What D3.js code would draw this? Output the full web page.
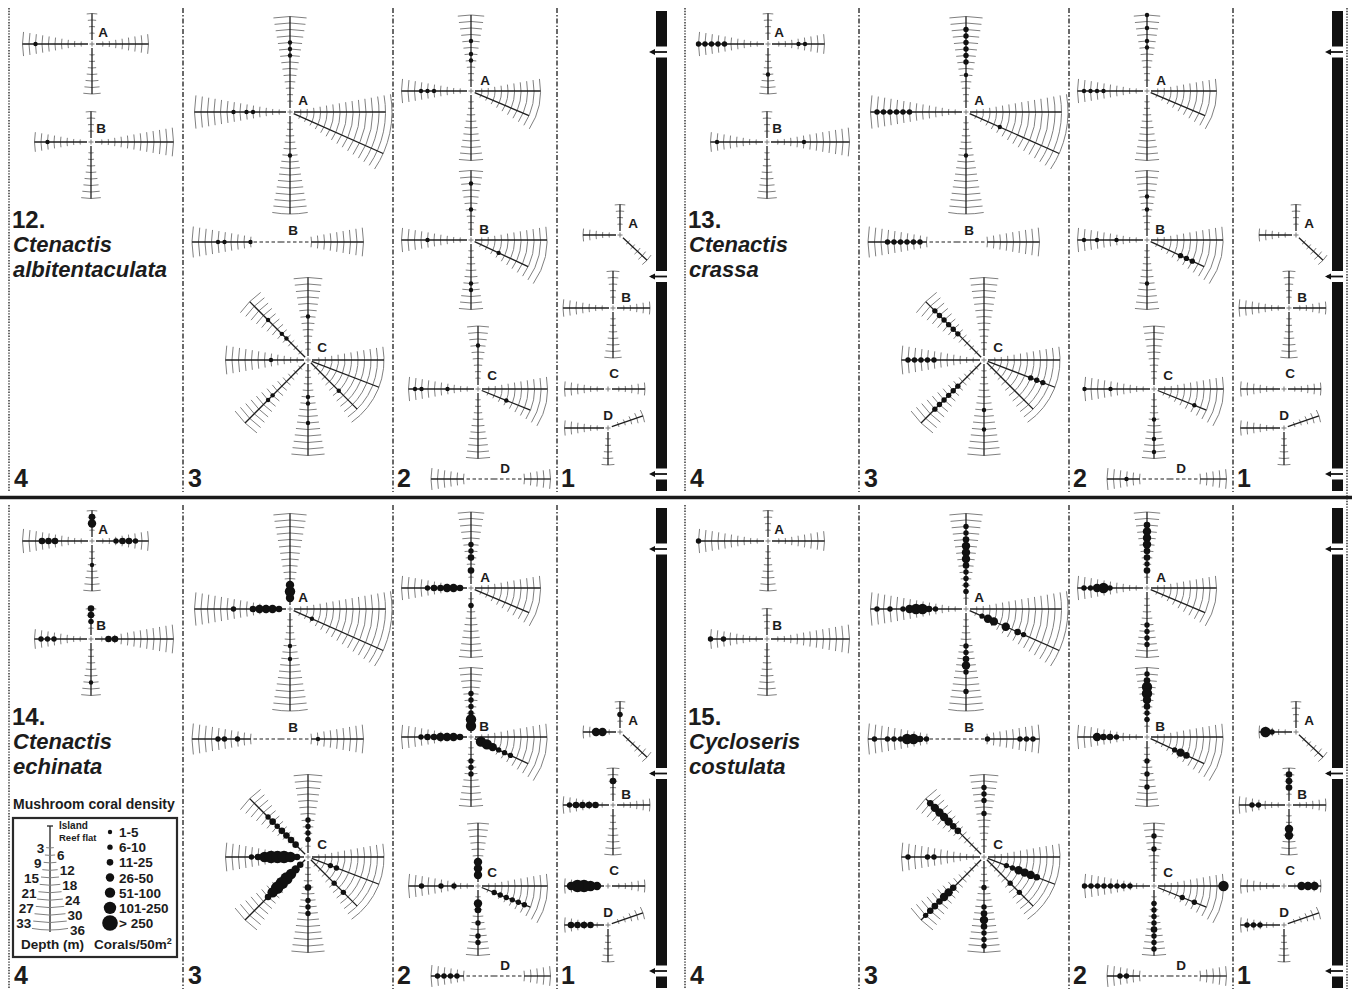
<!DOCTYPE html>
<html>
<head>
<meta charset="utf-8">
<script src="https://cdn.jsdelivr.net/npm/d3@7"></script>
<style>
  html, body { margin: 0; padding: 0; background: #ffffff; }
  svg { display: block; }
  text { font-family: "Liberation Sans", Arial, sans-serif; font-weight: bold; fill: #1c1c1c; }
</style>
</head>
<body>
<svg id="chart" width="1352" height="990"></svg>
<script>
// ---------------------------------------------------------------
// Data
// ---------------------------------------------------------------
const columnNames = ["4", "3", "2", "1"];
const speciesNumber = ["12.", "13.", "14.", "15."];
const speciesGenus = ["Ctenactis", "Ctenactis", "Ctenactis", "Cycloseris"];
const speciesEpithet = ["albitentaculata", "crassa", "echinata", "costulata"];
const densityClasses = ["1-5", "6-10", "11-25", "26-50", "51-100", "101-250", "> 250"];
const depthTicks = [3, 6, 9, 12, 15, 18, 21, 24, 27, 30, 33, 36];

// Transect arms of every station: [station, arm, bearing (deg, ccw from east), depth steps, first step drawn]
const stationArms = [
  ["4A", "N", 90, 4, 1], ["4A", "W", 180, 10, 1], ["4A", "S", 270, 7, 1], ["4A", "E", 0, 8, 1],
  ["4B", "N", 90, 4, 1], ["4B", "W", 180, 8, 1], ["4B", "S", 270, 8, 1], ["4B", "E", 0, 12, 1],
  ["3A", "N", 90, 14, 1], ["3A", "W", 180, 14, 1], ["3A", "S", 270, 15, 1], ["3A", "E", 0, 14, 1], ["3A", "ESE", -24, 15, 1],
  ["3B", "W", 180, 13, 4], ["3B", "E", 0, 12, 4],
  ["3C", "N", 90, 12, 1], ["3C", "NW", 135, 12, 1], ["3C", "W", 180, 12, 1], ["3C", "SW", 225, 13, 1],
  ["3C", "S", 270, 14, 1], ["3C", "E", 0, 11, 1], ["3C", "ESE", -21, 11, 1], ["3C", "SE", -45, 10, 1],
  ["2A", "N", 90, 11, 1], ["2A", "W", 180, 10, 1], ["2A", "S", 270, 10, 1], ["2A", "E", 0, 10, 1], ["2A", "ESE", -23, 9, 1],
  ["2B", "N", 90, 10, 1], ["2B", "W", 180, 10, 1], ["2B", "S", 270, 10, 1], ["2B", "E", 0, 11, 1], ["2B", "ESE", -25, 9, 1],
  ["2C", "N", 90, 9, 1], ["2C", "W", 180, 10, 1], ["2C", "S", 270, 10, 1], ["2C", "E", 0, 10, 1], ["2C", "ESE", -22, 8, 1],
  ["2D", "W", 180, 9, 4], ["2D", "E", 0, 8, 4],
  ["1A", "N", 90, 4, 1], ["1A", "W", 180, 5, 1], ["1A", "SE", -43, 5, 1],
  ["1B", "N", 90, 5, 1], ["1B", "W", 180, 7, 1], ["1B", "S", 270, 7, 1], ["1B", "E", 0, 5, 1],
  ["1C", "W", 180, 6, 1], ["1C", "E", 0, 5, 1],
  ["1D", "W", 180, 6, 1], ["1D", "S", 270, 5, 1], ["1D", "ENE", 19, 5, 1]
];

// Arms that share one fan of depth contours
const fanGroups = [
  ["3A", ["E", "ESE"]],
  ["3C", ["E", "ESE", "SE"]],
  ["2A", ["E", "ESE"]],
  ["2B", ["E", "ESE"]],
  ["2C", ["E", "ESE"]]
];

// Coral counts: [station, arm, depth step, density class 1..7]
const densityAlbitentaculata = [
  ["4A", "W", 8, 1], ["4B", "W", 6, 1],
  ["3A", "N", 10, 1], ["3A", "N", 9, 1], ["3A", "N", 8, 1],
  ["3A", "W", 8, 1], ["3A", "W", 6, 1], ["3A", "W", 5, 1], ["3A", "S", 6, 1],
  ["3B", "W", 9, 1], ["3B", "W", 8, 1], ["3B", "W", 4, 1],
  ["3C", "N", 6, 1], ["3C", "NW", 8, 1], ["3C", "NW", 5, 1], ["3C", "NW", 4, 1],
  ["3C", "W", 5, 1], ["3C", "SW", 7, 1], ["3C", "SW", 8, 1],
  ["3C", "S", 5, 1], ["3C", "S", 6, 1], ["3C", "S", 9, 1], ["3C", "SE", 6, 1],
  ["2A", "N", 7, 1], ["2A", "N", 5, 1], ["2A", "N", 4, 1],
  ["2A", "W", 7, 1], ["2A", "W", 6, 1], ["2A", "W", 5, 1],
  ["2B", "N", 8, 1], ["2B", "N", 4, 1], ["2B", "W", 6, 1],
  ["2B", "S", 6, 1], ["2B", "S", 7, 1], ["2B", "ESE", 4, 1],
  ["2C", "N", 6, 1], ["2C", "W", 9, 1], ["2C", "W", 8, 1], ["2C", "W", 4, 1], ["2C", "ESE", 4, 1]
];

const densityCrassa = [
  ["4A", "W", 10, 2], ["4A", "W", 9, 2], ["4A", "W", 8, 2], ["4A", "W", 7, 2], ["4A", "W", 6, 2],
  ["4A", "E", 4, 1], ["4A", "E", 5, 1], ["4A", "S", 4, 1],
  ["4B", "W", 7, 1], ["4B", "E", 5, 1],
  ["3A", "N", 12, 2], ["3A", "N", 11, 2], ["3A", "N", 10, 2], ["3A", "N", 9, 2], ["3A", "N", 8, 2], ["3A", "N", 7, 2], ["3A", "N", 5, 1],
  ["3A", "W", 13, 2], ["3A", "W", 12, 2], ["3A", "W", 11, 2], ["3A", "W", 10, 2], ["3A", "W", 9, 2], ["3A", "W", 8, 2],
  ["3A", "ESE", 5, 1], ["3A", "S", 6, 1],
  ["3B", "W", 10, 2], ["3B", "W", 9, 2], ["3B", "W", 8, 2], ["3B", "W", 7, 2], ["3B", "W", 6, 2], ["3B", "W", 5, 2],
  ["3C", "NW", 10, 2], ["3C", "NW", 9, 2], ["3C", "NW", 8, 2], ["3C", "NW", 7, 2], ["3C", "NW", 6, 2], ["3C", "NW", 5, 2],
  ["3C", "W", 11, 2], ["3C", "W", 10, 2], ["3C", "W", 9, 2], ["3C", "W", 8, 2], ["3C", "W", 7, 2],
  ["3C", "SW", 10, 2], ["3C", "SW", 9, 2], ["3C", "SW", 8, 2], ["3C", "SW", 7, 2], ["3C", "SW", 6, 2], ["3C", "SW", 5, 2],
  ["3C", "S", 7, 1], ["3C", "S", 10, 1],
  ["3C", "ESE", 7, 2], ["3C", "ESE", 8, 2], ["3C", "ESE", 9, 2],
  ["2A", "N", 11, 1], ["2A", "N", 9, 1], ["2A", "N", 7, 1], ["2A", "N", 6, 1],
  ["2A", "W", 9, 1], ["2A", "W", 8, 1], ["2A", "W", 7, 1], ["2A", "W", 6, 1],
  ["2B", "N", 6, 1], ["2B", "N", 4, 1], ["2B", "W", 9, 1], ["2B", "W", 7, 1], ["2B", "W", 4, 1],
  ["2B", "S", 6, 1], ["2B", "ESE", 5, 2], ["2B", "ESE", 6, 2], ["2B", "ESE", 7, 2],
  ["2C", "W", 10, 1], ["2C", "W", 6, 1], ["2C", "S", 4, 1], ["2C", "S", 7, 1], ["2C", "S", 9, 1], ["2C", "ESE", 6, 1],
  ["2D", "W", 6, 1]
];

const densityEchinata = [
  ["4A", "N", 2, 4], ["4A", "N", 3, 3], ["4A", "W", 7, 3], ["4A", "W", 6, 3], ["4A", "W", 5, 3],
  ["4A", "E", 3, 2], ["4A", "E", 4, 3], ["4A", "E", 5, 3], ["4A", "E", 6, 2], ["4A", "S", 3, 1],
  ["4B", "N", 4, 3], ["4B", "N", 3, 3], ["4B", "N", 2, 2], ["4B", "W", 7, 2], ["4B", "W", 6, 2], ["4B", "W", 5, 2],
  ["4B", "E", 2, 3], ["4B", "E", 3, 3], ["4B", "S", 6, 1],
  ["3A", "N", 1, 4], ["3A", "N", 2, 5], ["3A", "N", 3, 4],
  ["3A", "W", 1, 3], ["3A", "W", 2, 4], ["3A", "W", 3, 4], ["3A", "W", 4, 4], ["3A", "W", 5, 3], ["3A", "W", 8, 2],
  ["3A", "ESE", 3, 1], ["3A", "S", 5, 1], ["3A", "S", 7, 1],
  ["3B", "W", 9, 2], ["3B", "W", 8, 2], ["3B", "W", 6, 2], ["3B", "E", 5, 1],
  ["3C", "W", 8, 2], ["3C", "W", 7, 3], ["3C", "W", 6, 5], ["3C", "W", 5, 6], ["3C", "W", 4, 6], ["3C", "W", 3, 6], ["3C", "W", 2, 5], ["3C", "W", 1, 3],
  ["3C", "NW", 2, 3], ["3C", "NW", 3, 3], ["3C", "NW", 4, 3], ["3C", "NW", 5, 3], ["3C", "NW", 6, 2], ["3C", "NW", 7, 3], ["3C", "NW", 8, 2],
  ["3C", "SW", 1, 3], ["3C", "SW", 2, 4], ["3C", "SW", 3, 5], ["3C", "SW", 4, 6], ["3C", "SW", 5, 6], ["3C", "SW", 6, 6], ["3C", "SW", 7, 5], ["3C", "SW", 8, 3],
  ["3C", "N", 2, 2], ["3C", "N", 3, 2], ["3C", "N", 4, 2], ["3C", "N", 5, 2],
  ["3C", "S", 4, 3], ["3C", "S", 6, 2], ["3C", "S", 7, 2], ["3C", "S", 8, 2],
  ["3C", "ESE", 3, 2], ["3C", "ESE", 4, 2], ["3C", "SE", 5, 2], ["3C", "SE", 7, 2],
  ["2A", "N", 2, 3], ["2A", "N", 4, 3], ["2A", "N", 5, 2], ["2A", "N", 6, 2],
  ["2A", "W", 1, 3], ["2A", "W", 2, 4], ["2A", "W", 3, 4], ["2A", "W", 4, 3], ["2A", "W", 5, 3], ["2A", "W", 6, 2],
  ["2A", "S", 2, 2],
  ["2B", "N", 1, 5], ["2B", "N", 2, 5], ["2B", "N", 3, 2], ["2B", "N", 4, 2], ["2B", "N", 5, 2], ["2B", "N", 6, 2],
  ["2B", "W", 1, 3], ["2B", "W", 2, 4], ["2B", "W", 3, 4], ["2B", "W", 4, 4], ["2B", "W", 5, 3], ["2B", "W", 6, 3], ["2B", "W", 7, 2],
  ["2B", "ESE", 1, 5], ["2B", "ESE", 2, 5], ["2B", "ESE", 3, 4], ["2B", "ESE", 4, 2], ["2B", "ESE", 5, 2], ["2B", "ESE", 6, 2],
  ["2B", "S", 3, 2], ["2B", "S", 4, 2], ["2B", "S", 5, 2],
  ["2C", "N", 1, 4], ["2C", "N", 2, 4], ["2C", "N", 3, 4],
  ["2C", "W", 3, 2], ["2C", "W", 5, 2], ["2C", "W", 8, 2],
  ["2C", "ESE", 2, 2], ["2C", "ESE", 3, 2], ["2C", "ESE", 4, 2], ["2C", "ESE", 5, 2], ["2C", "ESE", 6, 2], ["2C", "ESE", 7, 2],
  ["2C", "S", 2, 4], ["2C", "S", 3, 3], ["2C", "S", 5, 2], ["2C", "S", 7, 2], ["2C", "S", 8, 2],
  ["2D", "W", 8, 2], ["2D", "W", 7, 2], ["2D", "W", 6, 2], ["2D", "W", 5, 2],
  ["1A", "N", 2, 2], ["1A", "W", 2, 4], ["1A", "W", 3, 4],
  ["1B", "N", 3, 3], ["1B", "W", 2, 3], ["1B", "W", 3, 3], ["1B", "W", 4, 3], ["1B", "W", 5, 3], ["1B", "W", 6, 2],
  ["1C", "W", 1, 4], ["1C", "W", 2, 5], ["1C", "W", 3, 6], ["1C", "W", 4, 6], ["1C", "W", 5, 4],
  ["1D", "W", 2, 3], ["1D", "W", 3, 3], ["1D", "W", 4, 3], ["1D", "W", 5, 3]
];

const densityCostulata = [
  ["4A", "W", 10, 2], ["4B", "W", 8, 2], ["4B", "W", 6, 2],
  ["3A", "N", 12, 2], ["3A", "N", 11, 2], ["3A", "N", 10, 3], ["3A", "N", 9, 4], ["3A", "N", 8, 4], ["3A", "N", 7, 4],
  ["3A", "N", 6, 3], ["3A", "N", 5, 2], ["3A", "N", 4, 2], ["3A", "N", 3, 2], ["3A", "N", 2, 2],
  ["3A", "W", 13, 2], ["3A", "W", 11, 2], ["3A", "W", 9, 2], ["3A", "W", 8, 4], ["3A", "W", 7, 5], ["3A", "W", 6, 5], ["3A", "W", 5, 3], ["3A", "W", 4, 2],
  ["3A", "ESE", 2, 2], ["3A", "ESE", 3, 4], ["3A", "ESE", 4, 4], ["3A", "ESE", 6, 4], ["3A", "ESE", 8, 3], ["3A", "ESE", 9, 2],
  ["3A", "S", 5, 2], ["3A", "S", 6, 2], ["3A", "S", 7, 3], ["3A", "S", 8, 4], ["3A", "S", 9, 2], ["3A", "S", 12, 2],
  ["3B", "W", 12, 2], ["3B", "W", 10, 2], ["3B", "W", 9, 2], ["3B", "W", 8, 2], ["3B", "W", 7, 5], ["3B", "W", 6, 5], ["3B", "W", 5, 3], ["3B", "W", 4, 2],
  ["3B", "E", 4, 2], ["3B", "E", 9, 2], ["3B", "E", 10, 2], ["3B", "E", 11, 2],
  ["3C", "N", 10, 2], ["3C", "N", 9, 2], ["3C", "N", 8, 2], ["3C", "N", 6, 2],
  ["3C", "NW", 11, 3], ["3C", "NW", 10, 4], ["3C", "NW", 9, 4], ["3C", "NW", 8, 4], ["3C", "NW", 7, 4], ["3C", "NW", 6, 3], ["3C", "NW", 5, 3],
  ["3C", "W", 11, 2], ["3C", "W", 8, 2], ["3C", "W", 7, 2],
  ["3C", "SW", 12, 2], ["3C", "SW", 11, 3], ["3C", "SW", 10, 3], ["3C", "SW", 9, 3], ["3C", "SW", 8, 4], ["3C", "SW", 7, 4], ["3C", "SW", 6, 3],
  ["3C", "S", 4, 2], ["3C", "S", 7, 2], ["3C", "S", 8, 3], ["3C", "S", 9, 4], ["3C", "S", 10, 3], ["3C", "S", 11, 2], ["3C", "S", 12, 2], ["3C", "S", 13, 2],
  ["3C", "ESE", 3, 2], ["3C", "ESE", 4, 2], ["3C", "ESE", 5, 4], ["3C", "ESE", 6, 4], ["3C", "ESE", 7, 4], ["3C", "ESE", 8, 3],
  ["3C", "SE", 5, 2], ["3C", "SE", 7, 2],
  ["2A", "N", 9, 3], ["2A", "N", 8, 4], ["2A", "N", 7, 4], ["2A", "N", 6, 4], ["2A", "N", 5, 3], ["2A", "N", 4, 3], ["2A", "N", 3, 2], ["2A", "N", 2, 3],
  ["2A", "W", 9, 2], ["2A", "W", 8, 2], ["2A", "W", 7, 4], ["2A", "W", 6, 5], ["2A", "W", 5, 2],
  ["2A", "S", 5, 2], ["2A", "S", 6, 2], ["2A", "S", 7, 2], ["2A", "S", 8, 2],
  ["2B", "N", 9, 2], ["2B", "N", 8, 3], ["2B", "N", 7, 5], ["2B", "N", 6, 5], ["2B", "N", 5, 4], ["2B", "N", 4, 3], ["2B", "N", 3, 2], ["2B", "N", 2, 2],
  ["2B", "W", 7, 4], ["2B", "W", 6, 3], ["2B", "W", 5, 3], ["2B", "W", 4, 2],
  ["2B", "ESE", 4, 2], ["2B", "ESE", 5, 4], ["2B", "ESE", 6, 3],
  ["2B", "S", 3, 2], ["2B", "S", 5, 2], ["2B", "S", 7, 2],
  ["2C", "N", 5, 2], ["2C", "N", 7, 2],
  ["2C", "W", 10, 2], ["2C", "W", 9, 2], ["2C", "W", 8, 2], ["2C", "W", 7, 2], ["2C", "W", 6, 2], ["2C", "W", 5, 2], ["2C", "W", 4, 2], ["2C", "W", 3, 2],
  ["2C", "E", 10, 5], ["2C", "ESE", 4, 2], ["2C", "ESE", 6, 2],
  ["2C", "S", 2, 2], ["2C", "S", 3, 2], ["2C", "S", 4, 2], ["2C", "S", 5, 2], ["2C", "S", 6, 3], ["2C", "S", 7, 2], ["2C", "S", 8, 2], ["2C", "S", 9, 2],
  ["2D", "W", 6, 2], ["2D", "W", 7, 2],
  ["1A", "W", 4, 5], ["1A", "W", 3, 2],
  ["1B", "N", 2, 3], ["1B", "N", 3, 3], ["1B", "N", 4, 3], ["1B", "W", 4, 2], ["1B", "W", 5, 2], ["1B", "S", 3, 4], ["1B", "S", 4, 4],
  ["1C", "E", 2, 4], ["1C", "E", 3, 4], ["1C", "E", 4, 4],
  ["1D", "W", 3, 2], ["1D", "W", 4, 2], ["1D", "W", 5, 2]
];

const densityBySpecies = [densityAlbitentaculata, densityCrassa, densityEchinata, densityCostulata];

// ---------------------------------------------------------------
// Layout (panel-local pixel positions)
// ---------------------------------------------------------------
const panelOrigins = [[0, 0], [676, 0], [0, 497], [676, 497]];
const stationLayout = {
  "4A": { x: 92,  y: 44,  lx: 11, ly: -12 },
  "4B": { x: 91,  y: 142, lx: 10, ly: -14 },
  "3A": { x: 290, y: 112, lx: 13, ly: -12 },
  "3B": { x: 281, y: 242, lx: 12, ly: -12 },
  "3C": { x: 308, y: 360, lx: 14, ly: -13 },
  "2A": { x: 471, y: 91,  lx: 14, ly: -11 },
  "2B": { x: 471, y: 240, lx: 13, ly: -11 },
  "2C": { x: 478, y: 389, lx: 14, ly: -14 },
  "2D": { x: 494, y: 479, lx: 11, ly: -11 },
  "1A": { x: 620, y: 235, lx: 13, ly: -12 },
  "1B": { x: 613, y: 308, lx: 13, ly: -11 },
  "1C": { x: 608, y: 389, lx: 6,  ly: -16 },
  "1D": { x: 608, y: 428, lx: 0,  ly: -13 }
};
const columnDividers = [183, 393, 557];
const columnLabelX = [14, 188, 397, 561];
const barX = 656, barW = 11, barTop = 11, barBottom = 491;
const barBreaks = [52, 276.5, 474];

// ---------------------------------------------------------------
// Scales and helpers
// ---------------------------------------------------------------
const stepRadius = d3.scaleLinear().domain([0, 1]).range([4.5, 11]);   // depth step -> distance from station
const dotRadius = d3.scaleOrdinal().domain(d3.range(1, 8)).range([2.2, 2.7, 3.3, 4.2, 5.2, 6.2, 7.8]);
const RAD = Math.PI / 180;
const CONTOUR_HALF = 10;  // half opening of a depth contour, degrees
const contourColor = "#808080";

function polar(c, r, bearing) {
  return [c.x + r * Math.cos(bearing * RAD), c.y - r * Math.sin(bearing * RAD)];
}
function halfOpening(r) {
  return Math.max(CONTOUR_HALF, (2.6 / r) / RAD);
}
function contour(c, r, b0, b1) {
  // arc between bearings b0 < b1 (ccw degrees), drawn in screen space
  const s0 = -b1 * RAD, s1 = -b0 * RAD;
  const p = d3.path();
  p.moveTo(c.x + r * Math.cos(s0), c.y + r * Math.sin(s0));
  p.arc(c.x, c.y, r, s0, s1, false);
  return p.toString();
}

const armsByStation = d3.group(stationArms, d => d[0]);
const fansByStation = new Map(fanGroups);

const svg = d3.select("#chart");
svg.append("rect").attr("width", 1352).attr("height", 990).attr("fill", "#ffffff");

// ---------------------------------------------------------------
// Panels
// ---------------------------------------------------------------
panelOrigins.forEach((origin, pi) => {
  const g = svg.append("g").attr("transform", `translate(${origin[0]},${origin[1]})`);

  // frame: dotted outer edge and dash-dot column dividers
  g.append("line")
    .attr("x1", 9).attr("x2", 9).attr("y1", 8).attr("y2", 492)
    .attr("stroke", "#444").attr("stroke-width", 1.6).attr("stroke-dasharray", "1.4,1.4");
  g.selectAll("line.divider").data(columnDividers).join("line")
    .attr("class", "divider")
    .attr("x1", d => d).attr("x2", d => d).attr("y1", 8).attr("y2", 492)
    .attr("stroke", "#3a3a3a").attr("stroke-width", 1.5).attr("stroke-dasharray", "5,2,1.5,2");

  // column numbers
  g.selectAll("text.colnum").data(columnNames).join("text")
    .attr("class", "colnum")
    .attr("x", (d, i) => columnLabelX[i]).attr("y", 487)
    .attr("font-size", 25).text(d => d);

  // species title
  const title = g.append("g");
  title.append("text").attr("x", 12).attr("y", 228).attr("font-size", 24).text(speciesNumber[pi]);
  title.append("text").attr("x", 13).attr("y", 252).attr("font-size", 22).attr("font-style", "italic").text(speciesGenus[pi]);
  title.append("text").attr("x", 13).attr("y", 277).attr("font-size", 22).attr("font-style", "italic").text(speciesEpithet[pi]);

  // vertical reef bar with break arrows
  const breaks = [barTop - 5.5].concat(barBreaks, [barBottom + 5.5]);
  const segments = d3.pairs(breaks).map(([a, b]) => [a + 5.5, b - 5.5]);
  g.selectAll("rect.bar").data(segments).join("rect")
    .attr("class", "bar")
    .attr("x", barX).attr("width", barW)
    .attr("y", d => d[0]).attr("height", d => d[1] - d[0])
    .attr("fill", "#111");
  const arrows = g.selectAll("g.arrow").data(barBreaks).join("g").attr("class", "arrow");
  arrows.append("line")
    .attr("x1", barX + barW).attr("x2", barX - 5).attr("y1", d => d).attr("y2", d => d)
    .attr("stroke", "#111").attr("stroke-width", 1.8);
  arrows.append("path")
    .attr("d", d => `M${barX - 1},${d - 3} L${barX - 7},${d} L${barX - 1},${d + 3} Z`)
    .attr("fill", "#111");

  // stations
  const dots = densityBySpecies[pi];
  armsByStation.forEach((arms, id) => {
    const c = stationLayout[id];
    const sg = g.append("g").attr("class", "station");
    const fan = fansByStation.get(id) || [];
    const single = arms.filter(a => !fan.includes(a[1]));
    const fanArms = arms.filter(a => fan.includes(a[1]));

    // depth contours on single arms
    single.forEach(a => {
      const steps = d3.range(a[4], a[3] + 1);
      sg.selectAll(null).data(steps).join("path")
        .attr("d", i => {
          const r = stepRadius(i), w = halfOpening(r);
          return contour(c, r, a[2] - w, a[2] + w);
        })
        .attr("fill", "none").attr("stroke", contourColor).attr("stroke-width", 1);
    });
    // depth contours shared by a fan of arms
    if (fanArms.length) {
      const bMin = d3.min(fanArms, a => a[2]), bMax = d3.max(fanArms, a => a[2]);
      const steps = d3.range(1, d3.max(fanArms, a => a[3]) + 1);
      sg.selectAll(null).data(steps).join("path")
        .attr("d", i => {
          const r = stepRadius(i), w = halfOpening(r);
          return contour(c, r, bMin - w, bMax + w);
        })
        .attr("fill", "none").attr("stroke", contourColor).attr("stroke-width", 1);
    }

    // transect lines
    arms.forEach(a => {
      const r0 = a[4] > 1 ? stepRadius(a[4]) : 4;
      const p0 = polar(c, r0, a[2]), p1 = polar(c, stepRadius(a[3]), a[2]);
      sg.append("line")
        .attr("x1", p0[0]).attr("y1", p0[1]).attr("x2", p1[0]).attr("y2", p1[1])
        .attr("stroke", "#1e1e1e").attr("stroke-width", 1.3);
      if (a[4] > 1) {
        sg.append("line")
          .attr("x1", c.x).attr("y1", c.y).attr("x2", p0[0]).attr("y2", p0[1])
          .attr("stroke", "#1e1e1e").attr("stroke-width", 1.2).attr("stroke-dasharray", "3.5,2.5");
      }
    });

    // station marker
    if (arms.every(a => a[4] === 1)) {
      sg.append("path")
        .attr("d", `M${c.x - 2.5},${c.y} H${c.x + 2.5} M${c.x},${c.y - 2.5} V${c.y + 2.5}`)
        .attr("stroke", "#777").attr("stroke-width", 1);
    }

    // density dots
    const armMap = new Map(arms.map(a => [a[1], a]));
    const here = dots.filter(d => d[0] === id);
    sg.selectAll("circle").data(here).join("circle")
      .attr("cx", d => polar(c, stepRadius(d[2]), armMap.get(d[1])[2])[0])
      .attr("cy", d => polar(c, stepRadius(d[2]), armMap.get(d[1])[2])[1])
      .attr("r", d => dotRadius(d[3]))
      .attr("fill", "#111");

    // station letter
    sg.append("text")
      .attr("x", c.x + c.lx).attr("y", c.y + c.ly + 4.8)
      .attr("text-anchor", "middle").attr("font-size", 13.5)
      .text(id.slice(1));
  });

  // legend (drawn once, in the lower-left panel)
  if (pi === 2) drawLegend(g);
});

// outer right edge and the separator between the two rows
svg.append("line")
  .attr("x1", 1347).attr("x2", 1347).attr("y1", 8).attr("y2", 989)
  .attr("stroke", "#444").attr("stroke-width", 1.6).attr("stroke-dasharray", "1.4,1.4");
svg.append("line")
  .attr("x1", 0).attr("x2", 1352).attr("y1", 497.5).attr("y2", 497.5)
  .attr("stroke", "#1a1a1a").attr("stroke-width", 3.5);

// ---------------------------------------------------------------
// Legend
// ---------------------------------------------------------------
function drawLegend(g) {
  const lg = g.append("g").attr("class", "legend");
  lg.append("text").attr("x", 13).attr("y", 312).attr("font-size", 14).text("Mushroom coral density");
  lg.append("rect").attr("x", 13).attr("y", 321).attr("width", 164).attr("height", 139)
    .attr("fill", "none").attr("stroke", "#2a2a2a").attr("stroke-width", 2.2);

  // depth key
  const key = { x: 50, y: 329 };
  const depthY = d3.scaleLinear().domain([0, 36]).range([343.5, 433]);
  lg.append("line").attr("x1", key.x).attr("x2", key.x).attr("y1", key.y).attr("y2", depthY(36) + 2)
    .attr("stroke", "#222").attr("stroke-width", 1.3);
  lg.append("path").attr("d", `M${key.x - 3},${key.y} H${key.x + 3}`).attr("stroke", "#222").attr("stroke-width", 1.3);
  lg.selectAll("path.dk").data(depthTicks).join("path")
    .attr("class", "dk")
    .attr("d", d => {
      const r = depthY(d) - key.y, w = halfOpening(r);
      return contour(key, r, -90 - w, -90 + w);
    })
    .attr("fill", "none").attr("stroke", contourColor).attr("stroke-width", 1);
  lg.selectAll("text.dk").data(depthTicks).join("text")
    .attr("class", "dk")
    .attr("x", (d, i) => {
      const r = depthY(d) - key.y, hw = r * Math.sin(halfOpening(r) * RAD);
      return i % 2 === 0 ? key.x - hw - 2 : key.x + hw + 2;
    })
    .attr("y", d => depthY(d) + 5)
    .attr("text-anchor", (d, i) => i % 2 === 0 ? "end" : "start")
    .attr("font-size", 13.5).text(d => d);
  lg.append("text").attr("x", 59).attr("y", 332).attr("font-size", 10).text("Island");
  lg.append("text").attr("x", 59).attr("y", 344).attr("font-size", 9.5).text("Reef flat");
  lg.append("text").attr("x", 21).attr("y", 452).attr("font-size", 13.5).text("Depth (m)");

  // density key
  const classY = d3.scalePoint().domain(densityClasses).range([335, 426]);
  lg.selectAll("circle.dk").data(densityClasses).join("circle")
    .attr("class", "dk")
    .attr("cx", 110).attr("cy", d => classY(d))
    .attr("r", (d, i) => dotRadius(i + 1)).attr("fill", "#111");
  lg.selectAll("text.cl").data(densityClasses).join("text")
    .attr("class", "cl")
    .attr("x", 119).attr("y", d => classY(d) + 5)
    .attr("font-size", 13.5).text(d => d);
  const unit = lg.append("text").attr("x", 94).attr("y", 452).attr("font-size", 13.5);
  unit.append("tspan").text("Corals/50m");
  unit.append("tspan").attr("dy", -5).attr("font-size", 9).text("2");
}
</script>
</body>
</html>
